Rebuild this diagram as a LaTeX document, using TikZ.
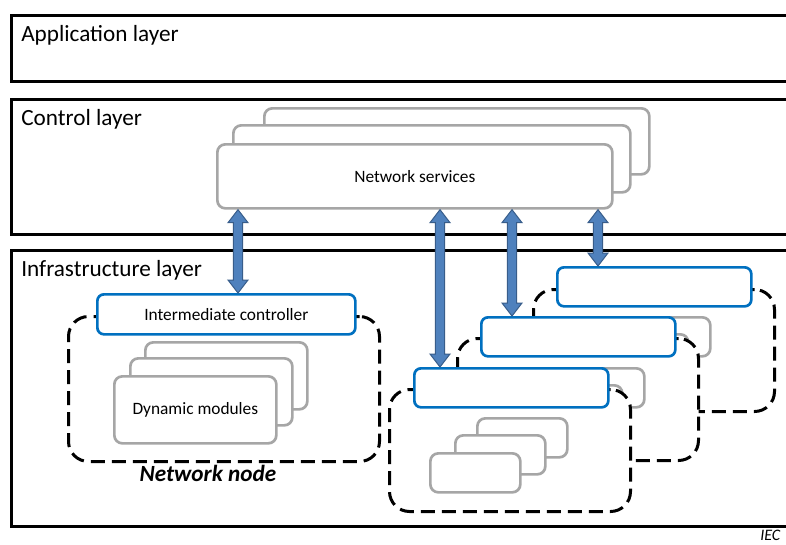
\documentclass[tikz,border=0pt]{standalone}
\usepackage{fontspec}
\setmainfont{Carlito}
\usetikzlibrary{calc}
\definecolor{ctlblue}{RGB}{0,112,192}
\definecolor{modgray}{RGB}{166,166,166}
\definecolor{arrowfill}{RGB}{79,129,189}
\definecolor{arrowline}{RGB}{56,93,138}

% block arrow with a head at both ends, drawn from #1 (top) to #2 (bottom)
\newcommand{\dblarrow}[2]{%
  \filldraw[bigarrow] let \p1=#1, \p2=#2 in
    (\x1,\y1) -- (\x1+7.5pt,\y1-9.75pt) -- (\x1+3.4pt,\y1-9.75pt)
    -- (\x1+3.4pt,\y2+9.75pt) -- (\x1+7.5pt,\y2+9.75pt) -- (\x1,\y2)
    -- (\x1-7.5pt,\y2+9.75pt) -- (\x1-3.4pt,\y2+9.75pt)
    -- (\x1-3.4pt,\y1-9.75pt) -- (\x1-7.5pt,\y1-9.75pt) -- cycle;}

\begin{document}
\begin{tikzpicture}[x=0.75pt,y=-0.75pt]
  \tikzstyle{layerbox}=[draw=black,line width=2.25pt,fill=white,anchor=north west,minimum width=600pt,inner sep=0]
  \tikzstyle{laytitle}=[anchor=west,inner sep=0,font=\fontsize{17.4}{20}\selectfont]
  \tikzstyle{svc}=[draw=modgray,line width=2pt,fill=white,rounded corners=6pt,anchor=north west,inner sep=0,font=\fontsize{13}{15}\selectfont]
  \tikzstyle{bigmod}=[svc,minimum width=121.5pt,minimum height=50.25pt]
  \tikzstyle{smallmod}=[svc,minimum width=67.5pt,minimum height=29.25pt]
  \tikzstyle{ctl}=[draw=ctlblue,line width=2pt,fill=white,rounded corners=5pt,anchor=north west,minimum width=145.5pt,minimum height=29.25pt,inner sep=0,font=\fontsize{13}{15}\selectfont]
  \tikzstyle{netnode}=[draw=black,line width=2.25pt,dash pattern=on 10.5pt off 5.25pt,fill=white,rounded corners=15pt,anchor=north west,minimum width=180.75pt,minimum height=91.5pt,inner sep=0]
  \tikzstyle{bigarrow}=[fill=arrowfill,draw=arrowline,line width=0.75pt]

  \clip (0,0) rectangle (786,544);
  \fill[white] (0,0) rectangle (786,544);

  % layers
  \node[layerbox,minimum height=49.5pt] (L_app) at (10,14) {};
  \node[layerbox,minimum height=101.25pt] (L_ctl) at (10,98) {};
  \node[layerbox,minimum height=207pt] (L_inf) at (10,249) {};
  \node[laytitle] (T_app) at (21,35) {Application layer};
  \node[laytitle] (T_ctl) at (21,119) {Control layer};
  \node[laytitle] (T_inf) at (21,270) {Infrastructure layer};

  % network services
  \node[svc,minimum width=288.75pt,minimum height=49.5pt] (S_3) at (263,107) {};
  \node[svc,minimum width=297.75pt,minimum height=50.25pt] (S_2) at (232,124) {};
  \node[svc,minimum width=296.25pt,minimum height=48pt] (S_1) at (216,143) {Network services};

  % network node
  \node[netnode,minimum width=233.25pt,minimum height=108.75pt] (N_0) at (67,315) {};
  \node[bigmod] (M_03) at (144,341) {};
  \node[bigmod] (M_02) at (129,357) {};
  \node[bigmod] (M_01) at (113,375) {Dynamic modules};
  \node[ctl,minimum width=193.5pt,minimum height=30pt] (C_0) at (96,293) {Intermediate controller};
  \node[font=\bfseries\itshape\fontsize{17.4}{20}\selectfont] (N_0lbl) at (208,473) {Network node};

  % further nodes, back to front
  \node[netnode] (N_C) at (532,288) {};
  \node[smallmod] (M_C3) at (619,316) {};
  \node[smallmod] (M_C2) at (597,333) {};
  \node[smallmod] (M_C1) at (572,351) {};
  \node[ctl] (C_C) at (556,266) {};

  \node[netnode] (N_B) at (456,337) {};
  \node[smallmod] (M_B3) at (553,367) {};
  \node[smallmod] (M_B2) at (531,384) {};
  \node[smallmod] (M_B1) at (506,402) {};
  \node[ctl] (C_B) at (480,316) {};

  \node[netnode] (N_A) at (388,388) {};
  \node[smallmod] (M_A3) at (476,417) {};
  \node[smallmod] (M_A2) at (454,434) {};
  \node[smallmod] (M_A1) at (429,452) {};
  \node[ctl] (C_A) at (413,367) {};

  % links
  \coordinate (a_0) at (238,0);
  \coordinate (a_A) at (440,0);
  \coordinate (a_B) at (512,0);
  \coordinate (a_C) at (598,0);
  \dblarrow{(S_1.south -| a_0)}{(C_0.north -| a_0)}
  \dblarrow{(S_1.south -| a_A)}{(C_A.north -| a_A)}
  \dblarrow{(S_1.south -| a_B)}{(C_B.north -| a_B)}
  \dblarrow{(S_1.south -| a_C)}{(C_C.north -| a_C)}

  \node[anchor=south west,inner sep=0,font=\itshape\fontsize{12}{14}\selectfont] (iec) at (760,541) {IEC};
\end{tikzpicture}
\end{document}
